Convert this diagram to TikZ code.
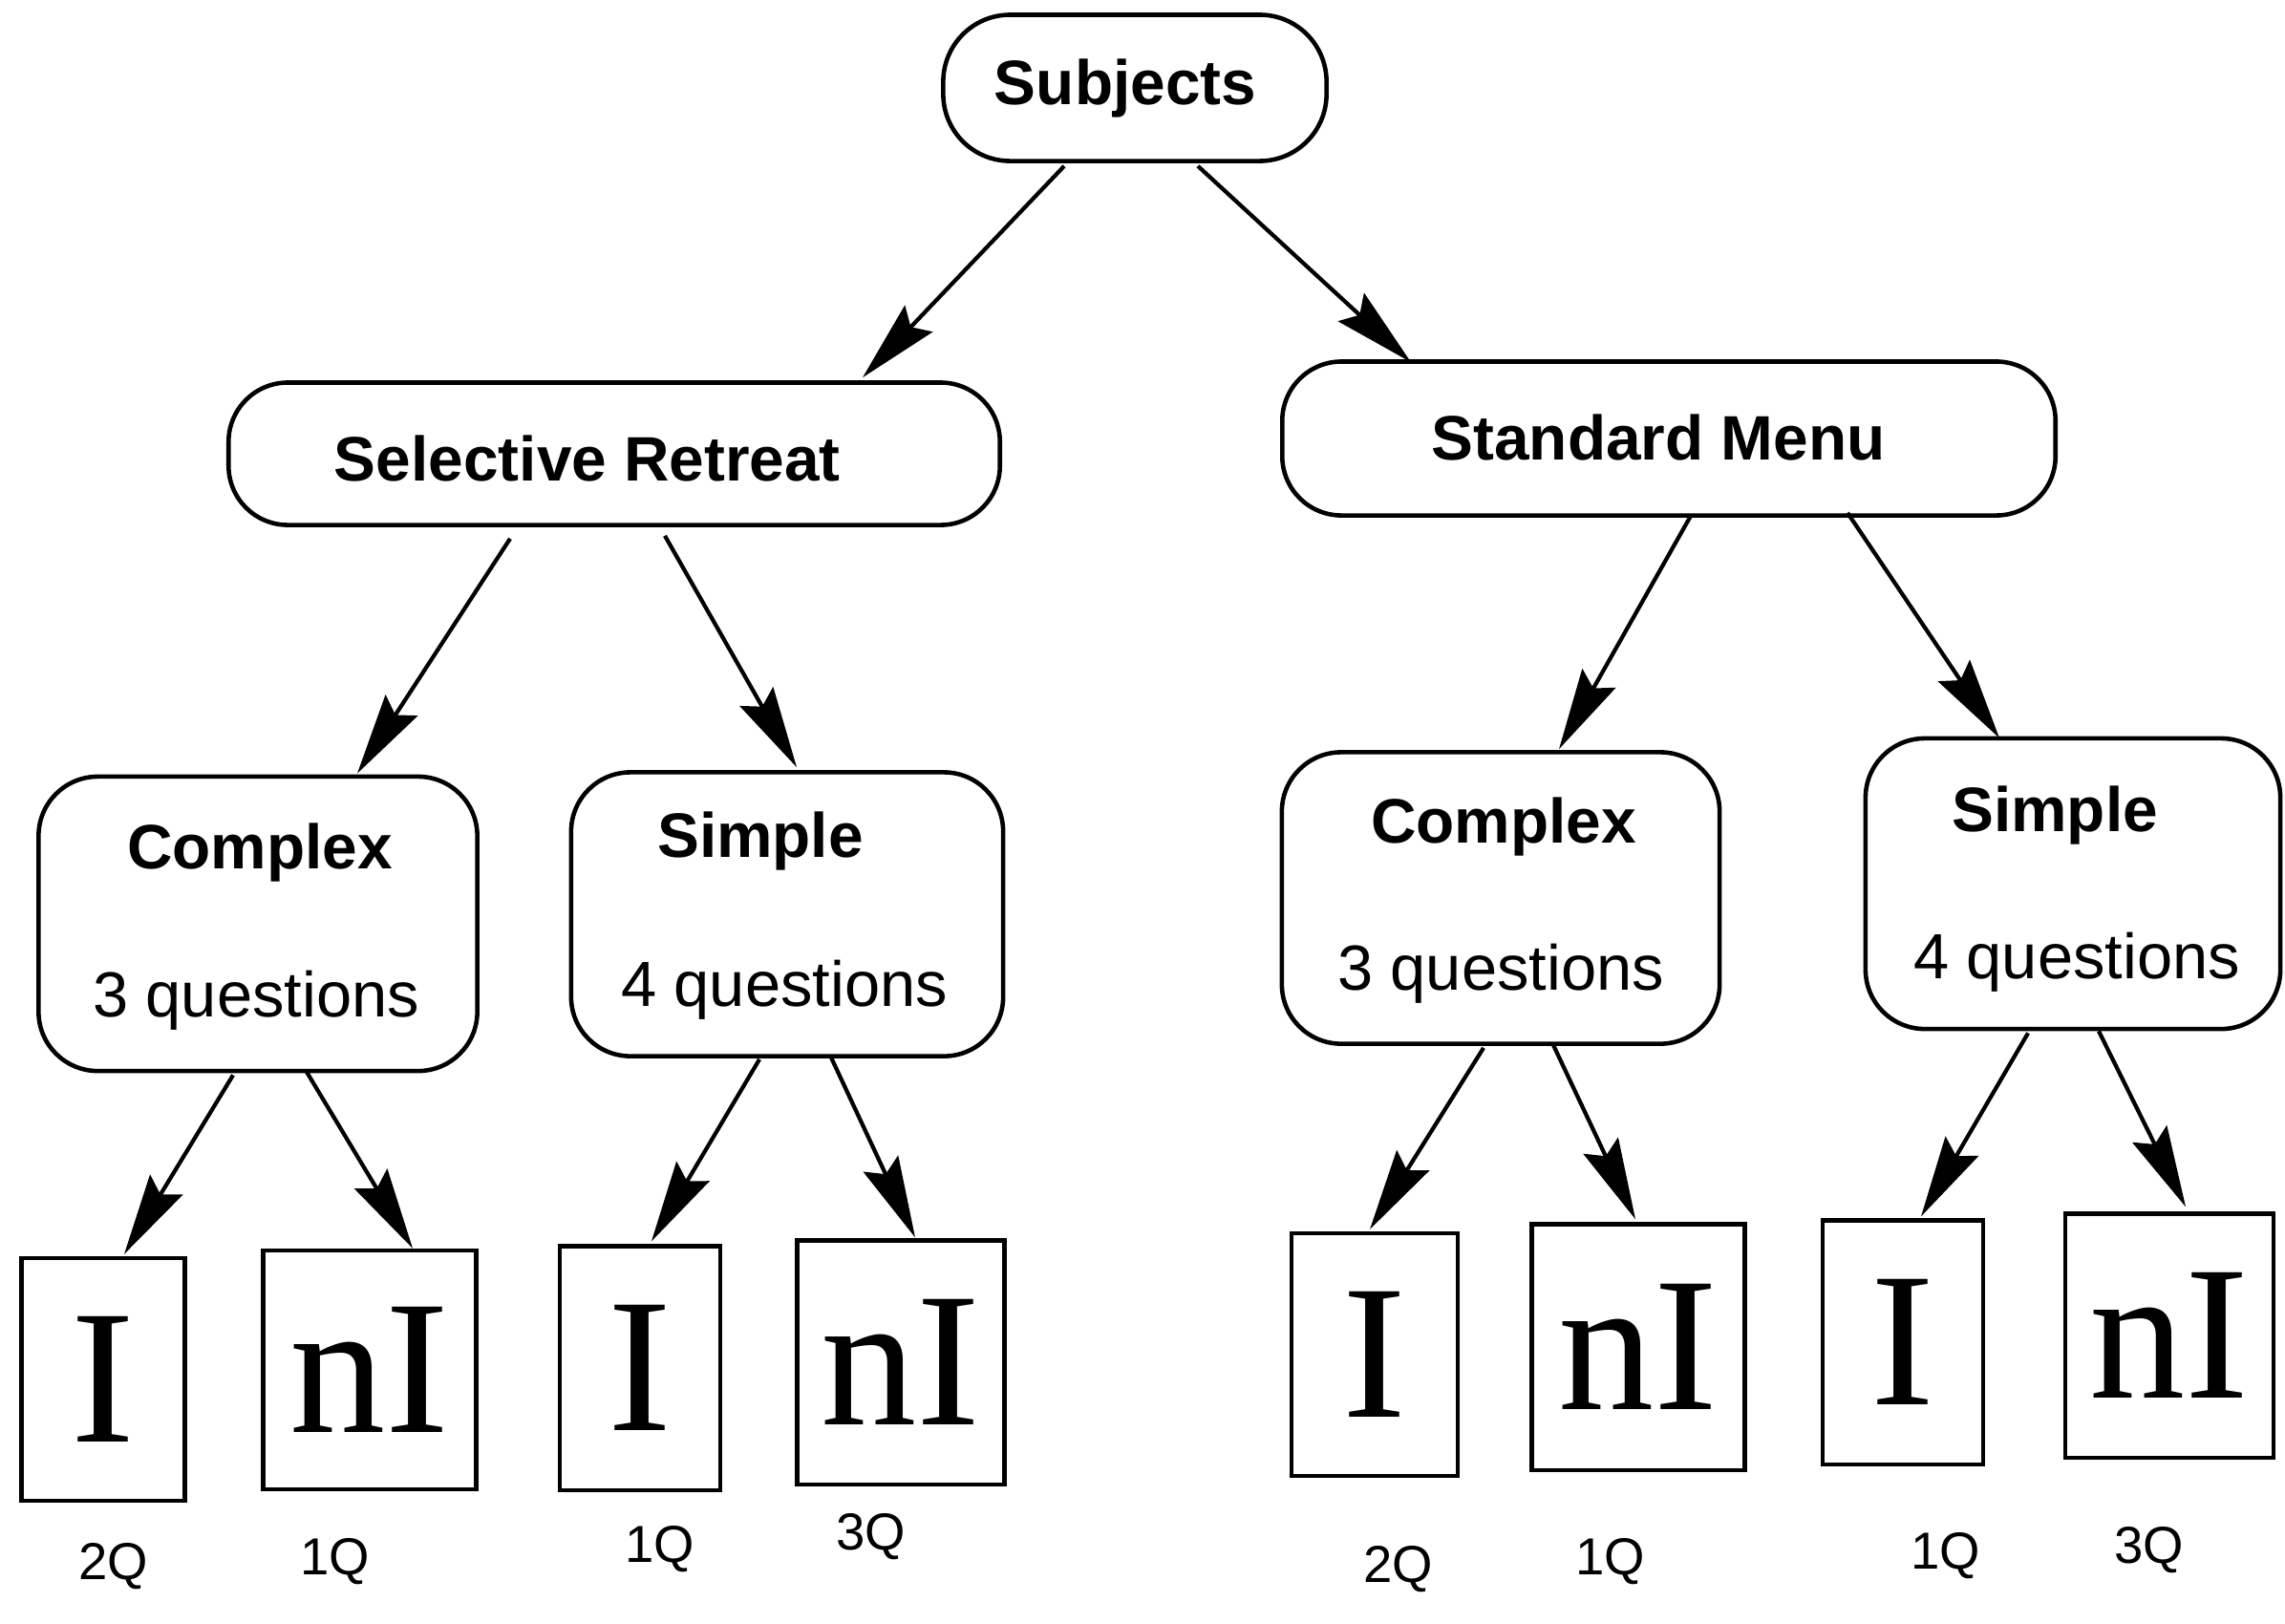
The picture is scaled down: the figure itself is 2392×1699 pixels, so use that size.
\documentclass[tikz,border=0pt]{standalone}
\usepackage{fontspec}
\setmainfont{Liberation Sans}
\newfontfamily\serifI{Liberation Serif}
\usetikzlibrary{arrows.meta,calc}
\begin{document}
\begin{tikzpicture}[x=0.01cm,y=-0.01cm,
  rbox/.style={draw, line width=1.3pt, rounded corners=0.62cm, inner sep=0pt},
  leaf/.style={draw, line width=1.2pt, inner sep=0pt, font=\serifI\fontsize{57}{60}\selectfont},
  lbl/.style={font=\bfseries\fontsize{18.7}{22}\selectfont},
  subl/.style={font=\fontsize{19}{22}\selectfont},
  cnt/.style={font=\fontsize{15.5}{18}\selectfont},
  arr/.style={line width=1.2pt, -{Stealth[length=0.85cm,width=0.4cm,inset=0.12cm]}}]
\useasboundingbox (0,0) rectangle (2392,1699);
% inner boxes
\node[rbox, rounded corners=0.7cm, minimum width=4.01cm, minimum height=1.53cm] (subj) at (1188,92) {};
\node[lbl] (subjT) at (1178,92) {Subjects};
\node[rbox, minimum width=8.07cm, minimum height=1.49cm] (sel) at (643,475) {};
\node[lbl] (selT) at (615,480) {Selective Retreat};
\node[rbox, minimum width=8.09cm, minimum height=1.61cm] (std) at (1747,459) {};
\node[lbl] (stdT) at (1736,458) {Standard Menu};
\node[rbox, minimum width=4.59cm, minimum height=3.08cm] (cxL) at (270,967) {};
\node[lbl] (cxLT) at (272,892) {Complex};
\node[subl] (cxLQ) at (268,1047) {3 questions};
\node[rbox, minimum width=4.52cm, minimum height=2.97cm] (spL) at (824,957) {};
\node[lbl] (spLT) at (796,880) {Simple};
\node[subl] (spLQ) at (821,1036) {4 questions};
\node[rbox, minimum width=4.58cm, minimum height=3.05cm] (cxR) at (1571,940) {};
\node[lbl] (cxRT) at (1574,865) {Complex};
\node[subl] (cxRQ) at (1571,1019) {3 questions};
\node[rbox, minimum width=4.34cm, minimum height=3.04cm] (spR) at (2170,925) {};
\node[lbl] (spRT) at (2151,853) {Simple};
\node[subl] (spRQ) at (2174,1007) {4 questions};
% leaves
\node[leaf, minimum width=1.71cm, minimum height=2.54cm] (l1) at (108,1444) {I};
\node[leaf, minimum width=2.23cm, minimum height=2.50cm] (l2) at (387,1434) {nI};
\node[leaf, minimum width=1.68cm, minimum height=2.55cm] (l3) at (670,1432) {I};
\node[leaf, minimum width=2.17cm, minimum height=2.55cm] (l4) at (943,1426) {nI};
\node[leaf, minimum width=1.74cm, minimum height=2.54cm] (l5) at (1439,1418) {I};
\node[leaf, minimum width=2.23cm, minimum height=2.57cm] (l6) at (1715,1410) {nI};
\node[leaf, minimum width=1.68cm, minimum height=2.55cm] (l7) at (1992,1405) {I};
\node[leaf, minimum width=2.18cm, minimum height=2.55cm] (l8) at (2271,1398) {nI};
% counts
\node[cnt] (c1) at (119,1640) {2Q};
\node[cnt] (c2) at (351,1635) {1Q};
\node[cnt] (c3) at (691,1622) {1Q};
\node[cnt] (c4) at (912,1609) {3Q};
\node[cnt] (c5) at (1464,1643) {2Q};
\node[cnt] (c6) at (1686,1635) {1Q};
\node[cnt] (c7) at (2037,1629) {1Q};
\node[cnt] (c8) at (2250,1623) {3Q};
% arrows
\draw[arr] ($(subj.south)+(-74,3)$) -- ($(sel.north)+(260,-3)$);
\draw[arr] ($(subj.south)+(66,3)$) -- ($(std.north)+(-270,3)$);
\draw[arr] ($(sel.south)+(-109,12)$) -- ($(cxL.north)+(104,-1)$);
\draw[arr] ($(sel.south)+(53,9)$) -- ($(spL.north)+(10,-3)$);
\draw[arr] ($(std.south)+(23,-2)$) -- ($(cxR.north)+(61,-1)$);
\draw[arr] ($(std.south)+(187,-5)$) -- ($(spR.north)+(-77,2)$);
\draw[arr] ($(cxL.south)+(-26,2)$) -- ($(l1.north)+(22,-2)$);
\draw[arr] ($(cxL.south)+(50,-3)$) -- ($(l2.north)+(45,0)$);
\draw[arr] ($(spL.south)+(-29,1)$) -- ($(l3.north)+(12,-3)$);
\draw[arr] ($(spL.south)+(46,-1)$) -- ($(l4.north)+(15,-1)$);
\draw[arr] ($(cxR.south)+(-18,2)$) -- ($(l5.north)+(-5,-2)$);
\draw[arr] ($(cxR.south)+(55,-1)$) -- ($(l6.north)+(-3,-3)$);
\draw[arr] ($(spR.south)+(-47,2)$) -- ($(l7.north)+(19,-2)$);
\draw[arr] ($(spR.south)+(27,0)$) -- ($(l8.north)+(17,-5)$);
\end{tikzpicture}
\end{document}
